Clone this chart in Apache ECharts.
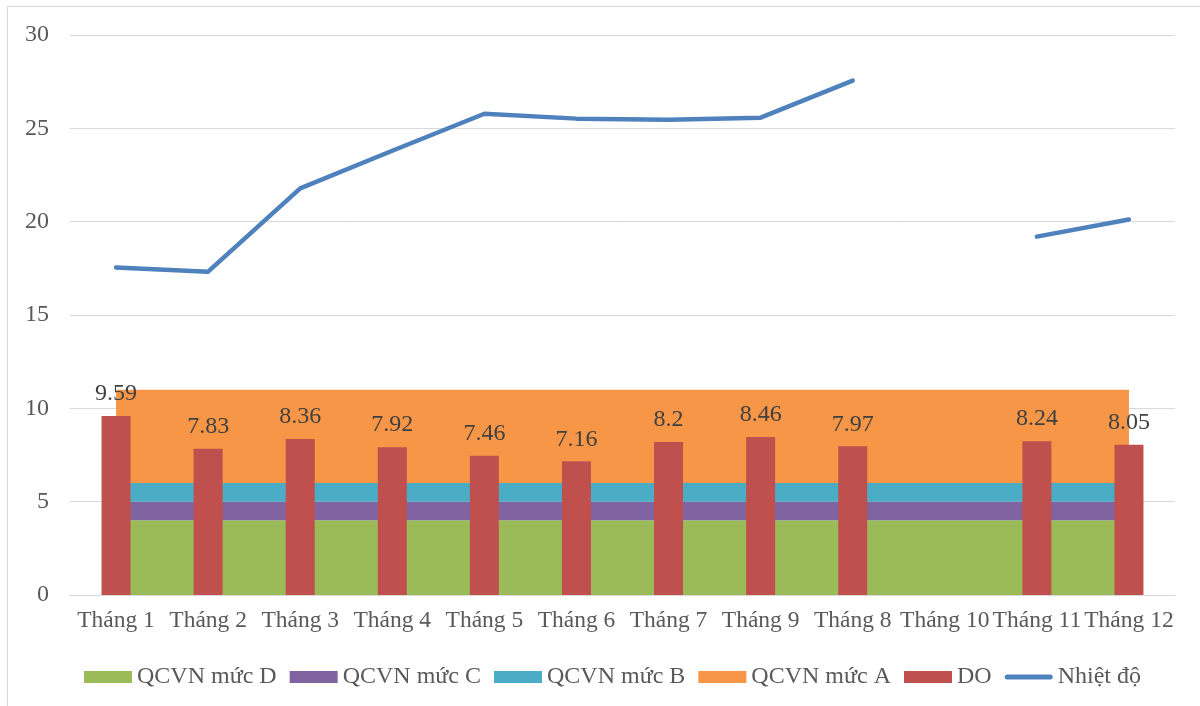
<!DOCTYPE html>
<html>
<head>
<meta charset="utf-8">
<script src="https://cdn.jsdelivr.net/npm/echarts@6/dist/echarts.min.js"></script>
<style>
  html, body { margin: 0; padding: 0; background: #fff; }
  #chart { width: 1200px; height: 706px; }
</style>
</head>
<body>
<div id="chart"></div>
<script>
// du lieu doc tu bieu do
const months = ["Tháng 1", "Tháng 2", "Tháng 3", "Tháng 4", "Tháng 5", "Tháng 6",
  "Tháng 7", "Tháng 9", "Tháng 8", "Tháng 10", "Tháng 11", "Tháng 12"];

const qcvnD = [4, 4, 4, 4, 4, 4, 4, 4, 4, 4, 4, 4];
const qcvnC = [1, 1, 1, 1, 1, 1, 1, 1, 1, 1, 1, 1];
const qcvnB = [1, 1, 1, 1, 1, 1, 1, 1, 1, 1, 1, 1];
const qcvnA = [5, 5, 5, 5, 5, 5, 5, 5, 5, 5, 5, 5];

const doValues = [9.59, 7.83, 8.36, 7.92, 7.46, 7.16, 8.2, 8.46, 7.97, null, 8.24, 8.05];
const nhietDo = [17.55, 17.32, 21.78, 23.8, 25.78, 25.52, 25.46, 25.57, 27.56, null, 19.2, 20.12];

const yTicks = { min: 0, max: 30, interval: 5 };

const chart = echarts.init(document.getElementById("chart"));
const font = "'Liberation Serif', 'Times New Roman', serif";

// vung QCVN xep chong
function areaSeries(name, data, color) {
  return {
    name: name,
    type: "line",
    stack: "qcvn",
    data: data,
    symbol: "none",
    lineStyle: { width: 0 },
    areaStyle: { color: color, opacity: 1 },
    itemStyle: { color: color },
    z: 1,
    silent: true
  };
}

const option = {
  backgroundColor: "#fff",
  animation: false,
  textStyle: { fontFamily: font },
  graphic: [{
    type: "rect",
    shape: { x: 7.5, y: 6.5, width: 1210, height: 720 },
    style: { fill: "none", stroke: "#d9d9d9", lineWidth: 1 },
    silent: true
  }],
  grid: { left: 70, right: 25, top: 35, bottom: 111 },
  legend: {
    bottom: 12,
    left: 79,
    itemWidth: 48,
    itemHeight: 12,
    itemGap: 13,
    textStyle: { fontFamily: font, fontSize: 24, color: "#595959" },
    data: [
      { name: "QCVN mức D", icon: "rect" },
      { name: "QCVN mức C", icon: "rect" },
      { name: "QCVN mức B", icon: "rect" },
      { name: "QCVN mức A", icon: "rect" },
      { name: "DO", icon: "rect" },
      { name: "Nhiệt độ", icon: "path://M2.5,0 L45.5,0 A2.5,2.5 0 0 1 45.5,5 L2.5,5 A2.5,2.5 0 0 1 2.5,0 Z" }
    ]
  },
  xAxis: {
    type: "category",
    data: months,
    boundaryGap: true,
    axisLine: { lineStyle: { color: "#d9d9d9", width: 1 } },
    axisTick: { show: false },
    axisLabel: { interval: 0, margin: 14, fontFamily: font, fontSize: 23.5, color: "#595959" }
  },
  yAxis: {
    type: "value",
    min: yTicks.min,
    max: yTicks.max,
    interval: yTicks.interval,
    axisLine: { show: false },
    axisTick: { show: false },
    splitLine: { lineStyle: { color: "#d9d9d9", width: 1 } },
    axisLabel: { margin: 21, fontFamily: font, fontSize: 24, color: "#595959" }
  },
  series: [
    areaSeries("QCVN mức D", qcvnD, "#9bbb59"),
    areaSeries("QCVN mức C", qcvnC, "#8064a2"),
    areaSeries("QCVN mức B", qcvnB, "#4bacc6"),
    areaSeries("QCVN mức A", qcvnA, "#f79646"),
    {
      name: "DO",
      type: "bar",
      data: doValues,
      barWidth: 29,
      itemStyle: { color: "#c0504d" },
      z: 3,
      label: {
        show: true,
        position: "top",
        distance: 10,
        fontFamily: font,
        fontSize: 24,
        color: "#404040"
      }
    },
    {
      name: "Nhiệt độ",
      type: "line",
      data: nhietDo,
      symbol: "none",
      connectNulls: false,
      itemStyle: { color: "#4f81bd" },
      lineStyle: { color: "#4f81bd", width: 4.5, cap: "round", join: "round" },
      z: 4
    }
  ]
};

chart.setOption(option);
</script>
</body>
</html>
